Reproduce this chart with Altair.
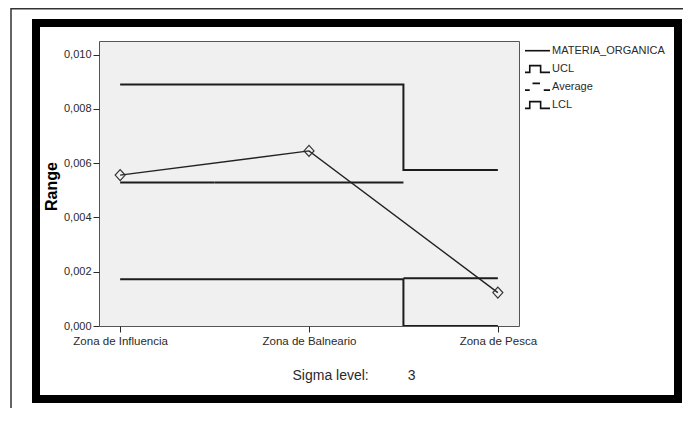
import altair as alt
import pandas as pd

# ---- data ----
categories = ["Zona de Influencia", "Zona de Balneario", "Zona de Pesca"]
range_values = [0.00556, 0.00645, 0.00123]
ucl_values = [0.00890, 0.00890, 0.00575]
avg_values = [0.00529, 0.00529, 0.00176]
lcl_values = [0.00172, 0.00172, 0.0]
y_ticks = [0.0, 0.002, 0.004, 0.006, 0.008, 0.010]
series_name = "MATERIA_ORGANICA"
legend_labels = [series_name, "UCL", "Average", "LCL"]
sigma_level = 3

FONT = "Liberation Sans, Arial, sans-serif"
TXT = "#2a2a2a"
LINE = "#1c1c1c"

n = len(categories)
idx = list(range(n))
df = pd.DataFrame({
    "i": idx,
    "cat": categories,
    "range": range_values,
    "ucl": ucl_values,
    "avg": avg_values,
    "lcl": lcl_values,
})
df["x_lo"] = [max(i - 0.5, 0) for i in idx]
df["x_hi"] = [min(i + 0.5, n - 1) for i in idx]

cat_js = "[" + ",".join("'" + c + "'" for c in categories) + "]"

x_axis = alt.Axis(
    values=idx, labelExpr=cat_js + "[datum.value]", grid=False, domain=False,
    ticks=True, tickSize=6, tickColor=TXT, tickWidth=1, labelPadding=3,
    labelFontSize=11.5, labelColor=TXT, labelFont=FONT,
    title="Sigma level:" + "\u00a0" * 10 + str(sigma_level),
    titleFont=FONT, titleFontSize=14, titleFontWeight="normal", titleColor=TXT,
    titleAlign="left", titleAnchor="start", titleX=193, titleY=49, titleBaseline="middle",
)
y_axis = alt.Axis(
    values=y_ticks, labelExpr="replace(format(datum.value, '.3f'), '.', ',')",
    grid=False, domain=False, ticks=True, tickSize=6, tickColor=TXT, tickWidth=1,
    labelPadding=2, labelFontSize=11, labelColor=TXT, labelFont=FONT,
    title="Range", titleFont=FONT, titleFontSize=16, titleFontWeight="bold",
    titleColor="#000", titleAngle=-90, titleX=-48, titleY=145,
    titleAlign="center", titleBaseline="middle",
)
x_scale = alt.Scale(domain=[-0.112, n - 1 + 0.112], nice=False, zero=False)
y_scale = alt.Scale(domain=[0, 0.0105], nice=False)


def X(field="i"):
    return alt.X(field + ":Q", scale=x_scale, axis=x_axis)


def Y(field):
    return alt.Y(field + ":Q", scale=y_scale, axis=y_axis)


base = alt.Chart(df)

ucl_line = base.mark_line(interpolate="step", color=LINE, strokeWidth=2).encode(x=X(), y=Y("ucl"))
lcl_line = base.mark_line(interpolate="step", color=LINE, strokeWidth=2, clip=True).encode(
    x=X(), y=Y("lcl"))
avg_rule = base.mark_rule(color=LINE, strokeWidth=2).encode(
    x=X("x_lo"), x2=alt.X2("x_hi"), y=Y("avg"))
range_line = base.mark_line(color="#222", strokeWidth=1.4).encode(x=X(), y=Y("range"))
range_pts = base.mark_point(
    shape="M0,-1.1L1,0L0,1.1L-1,0Z", size=100, filled=False,
    color="#333", strokeWidth=1.2, opacity=1,
).encode(x=X(), y=Y("range"))

# ---- decorative frames (pixel positions relative to plot area) ----
one = pd.DataFrame({"k": [0]})
thick_frame = alt.Chart(one).mark_rect(
    fill="transparent", stroke="#000", strokeWidth=8
).encode(x=alt.value(-63), x2=alt.value(579), y=alt.value(-18), y2=alt.value(358))
thin_frame = alt.Chart(one).mark_rect(
    fill="transparent", stroke="#333", strokeWidth=1.5
).encode(x=alt.value(-88), x2=alt.value(700), y=alt.value(-32.3), y2=alt.value(500))

# ---- manual legend ----
glyphs = [
    "M-1,0L1,0",
    "M-1,0.27L-0.62,0.27L-0.62,-0.27L0.25,-0.27L0.25,0.27L1,0.27",
    "M-1,0.27L-0.62,0.27M-0.4,-0.27L0.2,-0.27M0.5,0.27L1,0.27",
    "M-1,0.27L-0.62,0.27L-0.62,-0.27L0.25,-0.27L0.25,0.27L1,0.27",
]
leg_y = [9.7, 28, 45.7, 64]
legend_layers = []
for lab, g, yy in zip(legend_labels, glyphs, leg_y):
    legend_layers.append(
        alt.Chart(one).mark_point(filled=False, color="#111", strokeWidth=1.6, opacity=1).encode(
            x=alt.value(438.5), y=alt.value(yy), shape=alt.value(g), size=alt.value(625)))
    legend_layers.append(
        alt.Chart(one).mark_text(align="left", baseline="middle", font=FONT, fontSize=11,
                                 color=TXT, text=lab).encode(
            x=alt.value(453), y=alt.value(yy)))

chart = alt.layer(
    thin_frame, thick_frame, ucl_line, avg_rule, lcl_line, range_line, range_pts,
    *legend_layers,
).properties(
    width=420, height=285,
    autosize=alt.AutoSizeParams(type="none"),
    padding={"left": 91, "top": 33, "right": 164, "bottom": 82},
    background="#ffffff",
).configure_view(
    fill="#f0f0f0", stroke="#555555", strokeWidth=1
)

chart.save("out.html", embed_options={"renderer": "svg", "actions": False})
